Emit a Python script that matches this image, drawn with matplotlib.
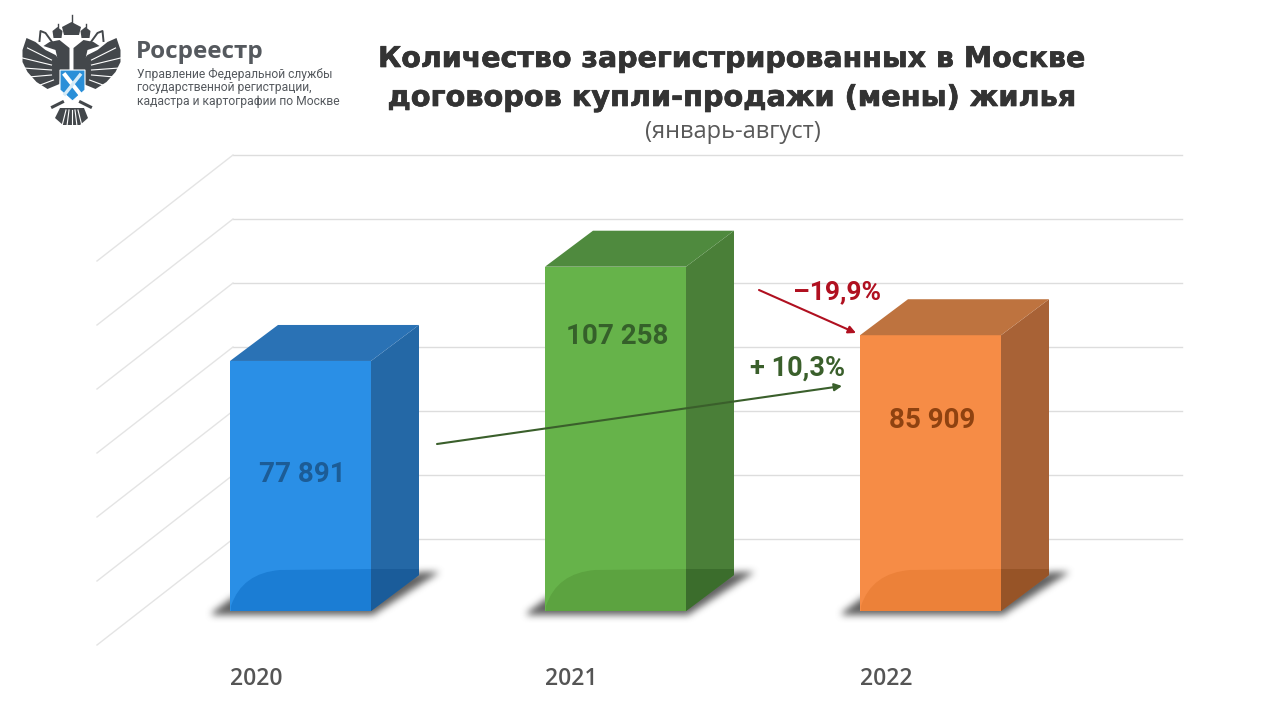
import numpy as np
import matplotlib
matplotlib.use('Agg')
import matplotlib.pyplot as plt
import matplotlib.patheffects as pe
from matplotlib.path import Path
from matplotlib.patches import PathPatch, Polygon

# data
years = ['2020', '2021', '2022']
values = [77891, 107258, 85909]
value_labels = ['77 891', '107 258', '85 909']
grid_values = [0, 20000, 40000, 60000, 80000, 100000, 120000]

front_colors = ['#2A8FE6', '#66B34A', '#F68C46']
floor_colors = ['#1B7DD4', '#5CA340', '#EC8139']
side_colors = ['#2468A6', '#4A7F38', '#A86236']
side_floor_colors = ['#1A5C9A', '#3B6D2C', '#975427']
top_colors = ['#2A72B5', '#4F8A3E', '#BE733F']
label_colors = ['#1C5C96', '#35602A', '#8F4210']

# layout, pixels of the 1280x720 picture
BASE = 611
PX_PER_UNIT = 0.00321
bar_left = [230, 545, 860]
label_rows = [474, 337, 421]
BAR_W = 141
DX, DY = 48, 36
WALL_BASE = 539
WALL_PX_PER_UNIT = 0.0032


def val(py):
    # picture row to value on the y axis
    return (BASE - py) / PX_PER_UNIT


fig = plt.figure(figsize=(12.8, 7.2), dpi=100)
ax = fig.add_axes([0, 0, 1, 1])
ax.axis('off')
dv = DY / PX_PER_UNIT

# back wall grid and its diagonals
for g in grid_values:
    py = WALL_BASE - g * WALL_PX_PER_UNIT
    ax.plot([233, 1182], [val(py), val(py)], color='#DDDDDD', lw=1, zorder=1)
    ax.plot([97, 233], [val(py + 106), val(py)], color='#E4E4E4', lw=1, zorder=1)

# soft shadows on the floor
yy, xx = np.mgrid[0:720, 0:1280]
shadow = np.zeros((720, 1280))
for left in bar_left:
    poly = Path([(left - 18, 612), (left + 2, 597), (left + 141, 577),
                 (left + 189, 572), (left + 210, 571), (left + 143, 614), (left - 18, 614)])
    inside = poly.contains_points(np.c_[xx.ravel(), yy.ravel()]).reshape(720, 1280)
    shadow[inside] = 1.0
kernel = np.ones(7) / 7
for i in range(3):
    shadow = np.apply_along_axis(lambda r: np.convolve(r, kernel, mode='same'), 1, shadow)
    shadow = np.apply_along_axis(lambda r: np.convolve(r, kernel, mode='same'), 0, shadow)
rgba = np.zeros((720, 1280, 4))
rgba[..., :3] = 0.38
rgba[..., 3] = np.clip(shadow * 1.0, 0, 1)
ax.imshow(rgba, extent=[0, 1280, val(720), val(0)], aspect='auto', zorder=2, interpolation='bilinear')
ax.set_xlim(0, 1280)
ax.set_ylim(val(720), val(0))

# bars with top and side faces
for i, v in enumerate(values):
    x0 = bar_left[i]
    x1 = x0 + BAR_W
    ax.bar(x0, v, width=BAR_W, align='edge', color=front_colors[i], linewidth=0, zorder=3)
    ax.add_patch(Polygon([(x1, 0), (x1 + DX, dv), (x1 + DX, v + dv), (x1, v)],
                         fc=side_colors[i], ec='none', zorder=3))
    ax.add_patch(Polygon([(x0, v), (x0 + DX, v + dv), (x1 + DX, v + dv), (x1, v)],
                         fc=top_colors[i], ec='none', zorder=3))
    # darker floor reflection low on the bar
    verts = [(x0 + 1, val(606)), (x0 + 12, val(573)), (x0 + 50, val(570)), (x1, val(569)),
             (x1, 0), (x0 + 1, 0), (x0 + 1, val(606))]
    codes = [Path.MOVETO, Path.CURVE3, Path.CURVE3, Path.LINETO, Path.LINETO, Path.LINETO, Path.CLOSEPOLY]
    ax.add_patch(PathPatch(Path(verts, codes), fc=floor_colors[i], ec='none', zorder=3.1))
    ax.add_patch(Polygon([(x1, val(569)), (x1 + DX, val(569)), (x1 + DX, dv), (x1, 0)],
                         fc=side_floor_colors[i], ec='none', zorder=3.1))
    # value on the bar
    ax.text(x0 + 72, val(label_rows[i]), value_labels[i], ha='center', va='center', family='Roboto',
            weight='bold', fontsize=20, color=label_colors[i], zorder=5)
    # year under the bar
    ax.text(x0 + 26, val(679), years[i], ha='center', va='center', family='Open Sans',
            weight='semibold', fontsize=16.5, color='#555555', zorder=5)

# change arrows
ax.annotate('', xy=(842, val(386)), xytext=(437, val(444)), zorder=6,
            arrowprops=dict(arrowstyle='-|>', color='#3A5F2B', lw=1.5, mutation_scale=11, shrinkA=0, shrinkB=0))
ax.annotate('', xy=(856, val(333)), xytext=(759, val(290)), zorder=6,
            arrowprops=dict(arrowstyle='-|>', color='#B01020', lw=1.5, mutation_scale=11, shrinkA=0, shrinkB=0))
ax.text(797, val(368), '+ 10,3%', ha='center', va='center', family='Roboto', weight='bold',
        fontsize=19.5, color='#3A5F2B', zorder=6)
ax.text(837, val(292), '\u201319,9%', ha='center', va='center', family='Roboto', weight='bold',
        fontsize=19, color='#B01020', zorder=6)

# titles
bold_stroke = [pe.withStroke(linewidth=0.5, foreground='#333333')]
ax.text(732, val(59), 'Количество зарегистрированных в Москве', ha='center', va='center',
        family='DejaVu Sans', weight='bold', fontsize=20.5, color='#333333', path_effects=bold_stroke)
ax.text(731, val(98), 'договоров купли-продажи (мены) жилья', ha='center', va='center',
        family='DejaVu Sans', weight='bold', fontsize=20.7, color='#333333', path_effects=bold_stroke)
ax.text(733, val(132), '(январь-август)', ha='center', va='center', family='Open Sans',
        fontsize=17, color='#595959')

# logo text
ax.text(136, val(52), 'Росреестр', ha='left', va='center', family='Open Sans', weight='bold',
        fontsize=17.5, color='#55595E')
logo_lines = ['Управление Федеральной службы', 'государственной регистрации,',
              'кадастра и картографии по Москве']
for line, py in zip(logo_lines, [74, 88, 102]):
    ax.text(137, val(py), line, ha='left', va='center', family='Roboto', fontsize=8.75, color='#55595E')

# logo eagle, rough shapes
EAGLE = '#43474B'
cx = 71.5
for side in [-1, 1]:
    # wing with white feather cuts
    wing = [(10, 62), (16, 55), (26, 50), (36, 42), (45, 38), (49, 50), (49, 62), (44, 72), (35, 82), (24, 89), (12, 84)]
    ax.add_patch(Polygon([(cx + side * a, val(b)) for a, b in wing], fc=EAGLE, ec='none', zorder=4))
    for a0, b0, a1, b1 in [(20, 60, 44, 48), (20, 65, 49, 58), (20, 70, 48, 68), (20, 75, 43, 77), (18, 80, 34, 86)]:
        ax.plot([cx + side * a0, cx + side * a1], [val(b0), val(b1)], color='#FFFFFF', lw=0.8, zorder=4.1)
    # head and neck
    ax.add_patch(Polygon([(cx + side * 2, val(48)), (cx + side * 12, val(40)), (cx + side * 22, val(42)),
                          (cx + side * 28, val(46)), (cx + side * 16, val(50)), (cx + side * 11, val(72)),
                          (cx + side * 2, val(72))], fc=EAGLE, ec='none', zorder=4))
    # small crown and ribbon
    ax.add_patch(Polygon([(cx + side * 10, val(38)), (cx + side * 9, val(31)), (cx + side * 14, val(27)),
                          (cx + side * 19, val(31)), (cx + side * 18, val(38))], fc=EAGLE, ec='none', zorder=4))
    ax.plot([cx + side * 14, cx + side * 14], [val(27), val(24)], color=EAGLE, lw=1, zorder=4)
    ax.plot([cx + side * 18, cx + side * 26, cx + side * 31, cx + side * 32], [val(44), val(33), val(31), val(41)],
            color=EAGLE, lw=1.4, zorder=4)
    # claws and tail
    ax.plot([cx + side * 9, cx + side * 19], [val(102), val(107)], color=EAGLE, lw=2.2, zorder=4)
ax.add_patch(Polygon([(64, val(35)), (62, val(27)), (71.5, val(22)), (81, val(27)), (79, val(35))],
                     fc=EAGLE, ec='none', zorder=4))
ax.plot([71.5, 71.5], [val(15), val(23)], color=EAGLE, lw=1, zorder=4)
ax.add_patch(Polygon([(60, val(108)), (84, val(108)), (88, val(118)), (80, val(125)), (63, val(125)), (55, val(118))],
                     fc=EAGLE, ec='none', zorder=4))
for a0, a1 in [(66, 62), (69, 67), (72, 72), (75, 77), (78, 82)]:
    ax.plot([a0, a1], [val(110), val(126)], color='#FFFFFF', lw=0.8, zorder=4.1)
ax.add_patch(Polygon([(60, val(70)), (85, val(70)), (85, val(90)), (72.5, val(101)), (60, val(90))],
                     fc='#2A8FD8', ec='#FFFFFF', lw=0.8, zorder=4.2))
ax.plot([65, 80], [val(75), val(94)], color='#FFFFFF', lw=3, zorder=4.3)
ax.plot([80, 65], [val(75), val(94)], color='#D7ECF8', lw=2.4, zorder=4.3)

fig.savefig('out.png', dpi=100)
